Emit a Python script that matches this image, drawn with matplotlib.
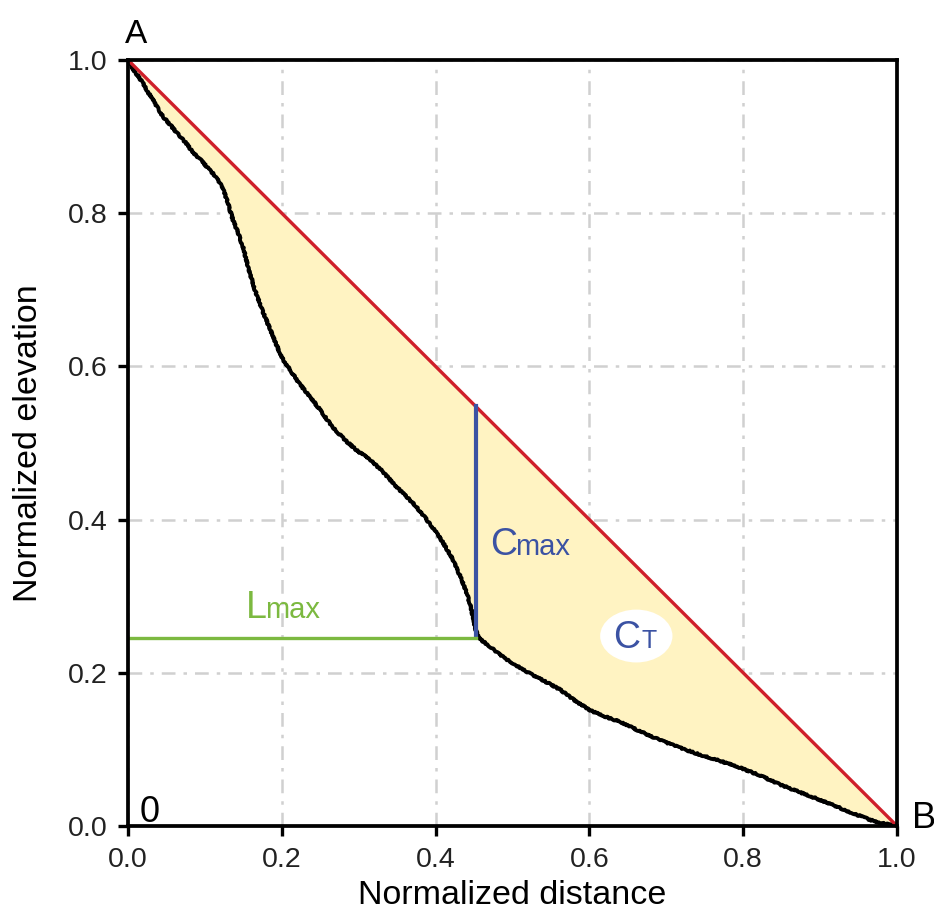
import matplotlib
matplotlib.use('Agg')
import matplotlib.pyplot as plt
from matplotlib.patches import Ellipse
import numpy as np

plt.rcParams['font.family'] = ['Liberation Sans', 'DejaVu Sans']

# longitudinal profile (normalized)
dist = [0.0, 0.008, 0.0195, 0.026, 0.0325, 0.039, 0.0455, 0.056, 0.0676, 0.076, 0.0845,
        0.096, 0.1066, 0.113, 0.1196, 0.124, 0.1287, 0.1365, 0.143, 0.1495, 0.156, 0.165,
        0.175, 0.185, 0.193, 0.202, 0.213, 0.224, 0.237, 0.250, 0.265, 0.282, 0.298, 0.315,
        0.331, 0.347, 0.360, 0.373, 0.386, 0.399, 0.409, 0.419, 0.427, 0.434, 0.440, 0.445,
        0.449, 0.452, 0.456, 0.463, 0.471, 0.482, 0.493, 0.506, 0.519, 0.540, 0.562, 0.582,
        0.601, 0.620, 0.640, 0.665, 0.692, 0.718, 0.744, 0.770, 0.796, 0.822, 0.848, 0.874,
        0.900, 0.920, 0.939, 0.955, 0.965, 0.980, 1.0]
elev = [1.0, 0.986, 0.970, 0.958, 0.948, 0.937, 0.926, 0.914, 0.900, 0.891, 0.879,
        0.868, 0.856, 0.849, 0.839, 0.830, 0.817, 0.791, 0.775, 0.756, 0.730, 0.700,
        0.672, 0.648, 0.628, 0.608, 0.592, 0.576, 0.560, 0.543, 0.522, 0.504, 0.490, 0.478,
        0.463, 0.445, 0.432, 0.419, 0.403, 0.386, 0.371, 0.354, 0.338, 0.321, 0.305, 0.289,
        0.272, 0.256, 0.246, 0.240, 0.234, 0.225, 0.217, 0.209, 0.201, 0.190, 0.178, 0.163,
        0.151, 0.143, 0.136, 0.124, 0.112, 0.102, 0.093, 0.085, 0.076, 0.066, 0.054, 0.044,
        0.034, 0.026, 0.018, 0.012, 0.008, 0.004, 0.0]

chord_x = [0.0, 1.0]
chord_y = [1.0, 0.0]

cmax_x = 0.452
cmax_y = [0.248, 0.548]
lmax_y = 0.245

dist = np.array(dist)
elev = np.array(elev)
chord_line = np.interp(dist, chord_x, chord_y)

blue = '#3b52a3'
green = '#7cb940'

fig = plt.figure(figsize=(9.34, 9.17), dpi=100)
ax = fig.add_axes([128/934, 91/917, 769/934, 766/917])

ax.grid(True, color='#d0d0d0', linewidth=1.8, linestyle=(0, (5.5, 3.2, 1.4, 3.2)))
ax.set_axisbelow(True)

ax.fill_between(dist, elev, chord_line, color='#fff3c2', zorder=2, linewidth=0)
prof, = ax.plot(dist, elev, color='black', linewidth=2.8, zorder=4)
prof.set_sketch_params(scale=0.7, length=3, randomness=6)
ax.plot(chord_x, chord_y, color='#cf1f2a', linewidth=2.4, zorder=5)
ax.plot([cmax_x, cmax_x], cmax_y, color=blue, linewidth=3.0, zorder=5)
ax.plot([0, cmax_x], [lmax_y, lmax_y], color=green, linewidth=2.4, zorder=5)

ax.add_patch(Ellipse((0.661, 0.248), 0.094, 0.069, facecolor='white', edgecolor='none', zorder=5))

ax.set_xlim(0, 1)
ax.set_ylim(0, 1)
ticks = [0.0, 0.2, 0.4, 0.6, 0.8, 1.0]
ax.set_xticks(ticks)
ax.set_yticks(ticks)
ax.set_xticklabels([f'{t:.1f}' for t in ticks])
ax.set_yticklabels([f'{t:.1f}' for t in ticks])
ax.tick_params(direction='out', length=7, width=2.4, labelsize=20.5, pad=8, colors='black',
               labelcolor='#222222')
for s in ax.spines.values():
    s.set_linewidth(2.7)
    s.set_zorder(6)

ax.set_xlabel('Normalized distance', fontsize=24.5, labelpad=5)
ax.set_ylabel('Normalized elevation', fontsize=24.5, labelpad=17)

ax.text(-0.004, 1.022, 'A', fontsize=24, ha='left', va='baseline', clip_on=False)
ax.text(1.019, -0.003, 'B', fontsize=26, ha='left', va='baseline', clip_on=False)
ax.text(0.0156, 0.005, '0', fontsize=26, ha='left', va='baseline', zorder=7)

ax.text(0.471, 0.354, 'C', fontsize=27, color=blue, ha='left', va='baseline', zorder=7)
ax.text(0.503, 0.354, 'max', fontsize=21, color=blue, ha='left', va='baseline', zorder=7)
ax.text(0.153, 0.2715, 'L', fontsize=27, color=green, ha='left', va='baseline', zorder=7)
ax.text(0.178, 0.2715, 'max', fontsize=21, color=green, ha='left', va='baseline', zorder=7)
ax.text(0.631, 0.232, 'C', fontsize=27, color=blue, ha='left', va='baseline', zorder=7)
ax.text(0.668, 0.232, 'T', fontsize=18, color=blue, ha='left', va='baseline', zorder=7)

fig.savefig('out.png', dpi=100)
